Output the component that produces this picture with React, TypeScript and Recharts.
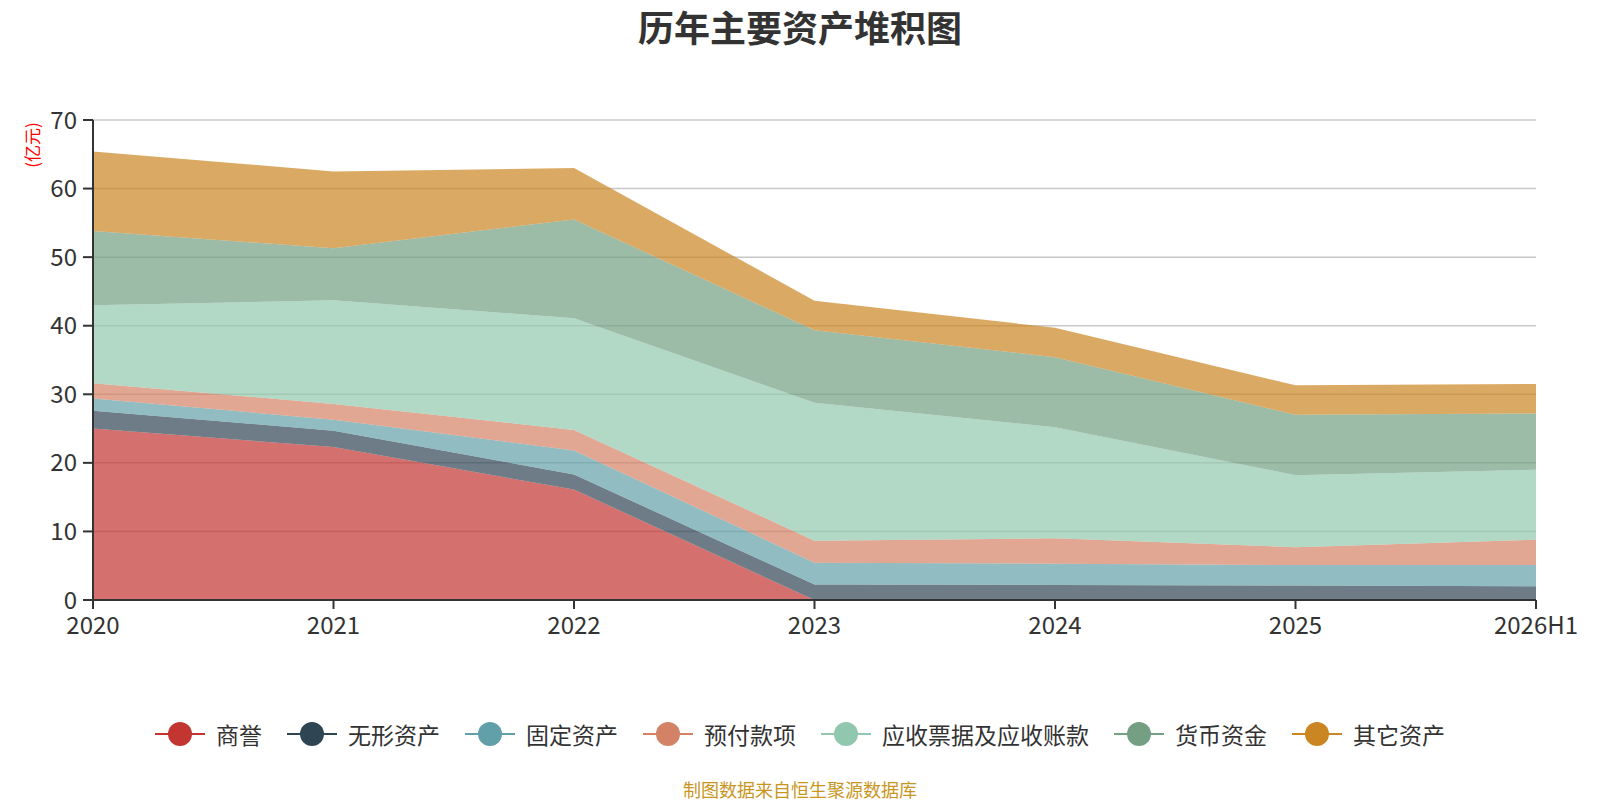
import React from "react";
import { Area, AreaChart, CartesianGrid, XAxis, YAxis } from "recharts";

const years = ["2020", "2021", "2022", "2023", "2024", "2025", "2026H1"];

const goodwill = [25.0, 22.3, 16.1, 0, 0, 0, 0];
const intangible = [2.6, 2.4, 2.2, 2.25, 2.2, 2.1, 2.0];
const fixedAssets = [1.8, 1.6, 3.5, 3.2, 3.1, 3.0, 3.1];
const prepayments = [2.2, 2.3, 3.0, 3.2, 3.7, 2.6, 3.7];
const receivables = [11.4, 15.1, 16.3, 20.1, 16.2, 10.5, 10.2];
const cash = [10.8, 7.6, 14.4, 10.6, 10.2, 8.8, 8.2];
const others = [11.6, 11.2, 7.5, 4.3, 4.3, 4.3, 4.3];

const yTicks = [0, 10, 20, 30, 40, 50, 60, 70];

const series = [
    { key: "商誉", values: goodwill, color: "#c23531" },
    { key: "无形资产", values: intangible, color: "#2f4554" },
    { key: "固定资产", values: fixedAssets, color: "#61a0a8" },
    { key: "预付款项", values: prepayments, color: "#d48265" },
    { key: "应收票据及应收账款", values: receivables, color: "#91c7ae" },
    { key: "货币资金", values: cash, color: "#749f83" },
    { key: "其它资产", values: others, color: "#ca8622" },
];

const data = years.map((year, i) => {
    const row: Record<string, string | number> = { year };
    series.forEach((s) => {
        row[s.key] = s.values[i];
    });
    return row;
});

const FONT = '"Noto Sans CJK SC", "Microsoft YaHei", sans-serif';

function ChartLegend() {
    return (
        <div
            style={{
                position: "absolute",
                top: 720,
                left: 0,
                width: 1600,
                display: "flex",
                justifyContent: "center",
                alignItems: "center",
            }}
        >
            {series.map((s, i) => (
                <div key={s.key} style={{ display: "flex", alignItems: "center", marginLeft: i === 0 ? 0 : 25 }}>
                    <svg width={50} height={28}>
                        <line x1={0} y1={14} x2={50} y2={14} stroke={s.color} strokeWidth={2} />
                        <circle cx={25} cy={14} r={12} fill={s.color} />
                    </svg>
                    <span style={{ fontSize: 23, color: "#333", marginLeft: 11, lineHeight: "28px" }}>{s.key}</span>
                </div>
            ))}
        </div>
    );
}

export default function App() {
    return (
        <div style={{ position: "absolute", left: 0, top: 0, width: 1600, height: 800, background: "#fff", fontFamily: FONT }}>
            <div
                style={{
                    position: "absolute",
                    top: 2,
                    left: 0,
                    width: 1600,
                    textAlign: "center",
                    fontSize: 36,
                    lineHeight: "48px",
                    fontWeight: "bold",
                    color: "#333",
                }}
            >
                历年主要资产堆积图
            </div>
            <div
                style={{
                    position: "absolute",
                    left: 31,
                    top: 145,
                    transform: "translate(-50%, -50%) rotate(-90deg)",
                    fontSize: 17,
                    color: "#ff0000",
                    whiteSpace: "nowrap",
                }}
            >
                (亿元)
            </div>
            <AreaChart width={1600} height={800} data={data} margin={{ top: 120, right: 64, bottom: 164, left: 33 }}>
                <CartesianGrid vertical={false} stroke="#c8c8c8" strokeWidth={1.5} />
                <XAxis
                    dataKey="year"
                    height={36}
                    stroke="#333"
                    strokeWidth={2}
                    tick={{ fill: "#333", fontSize: 24, fontFamily: FONT }}
                    tickSize={9}
                    tickMargin={8}
                />
                <YAxis
                    width={60}
                    domain={[0, 70]}
                    ticks={yTicks}
                    interval={0}
                    stroke="#333"
                    strokeWidth={2}
                    tick={{ fill: "#333", fontSize: 24, fontFamily: FONT }}
                    tickSize={10}
                    tickMargin={6}
                />
                {series.map((s) => (
                    <Area
                        key={s.key}
                        type="linear"
                        dataKey={s.key}
                        stackId="assets"
                        stroke="none"
                        fill={s.color}
                        fillOpacity={0.7}
                        isAnimationActive={false}
                    />
                ))}
            </AreaChart>
            <ChartLegend />
            <div
                style={{
                    position: "absolute",
                    top: 776,
                    left: 0,
                    width: 1600,
                    textAlign: "center",
                    fontSize: 18,
                    lineHeight: "26px",
                    color: "#c8961e",
                }}
            >
                制图数据来自恒生聚源数据库
            </div>
        </div>
    );
}
